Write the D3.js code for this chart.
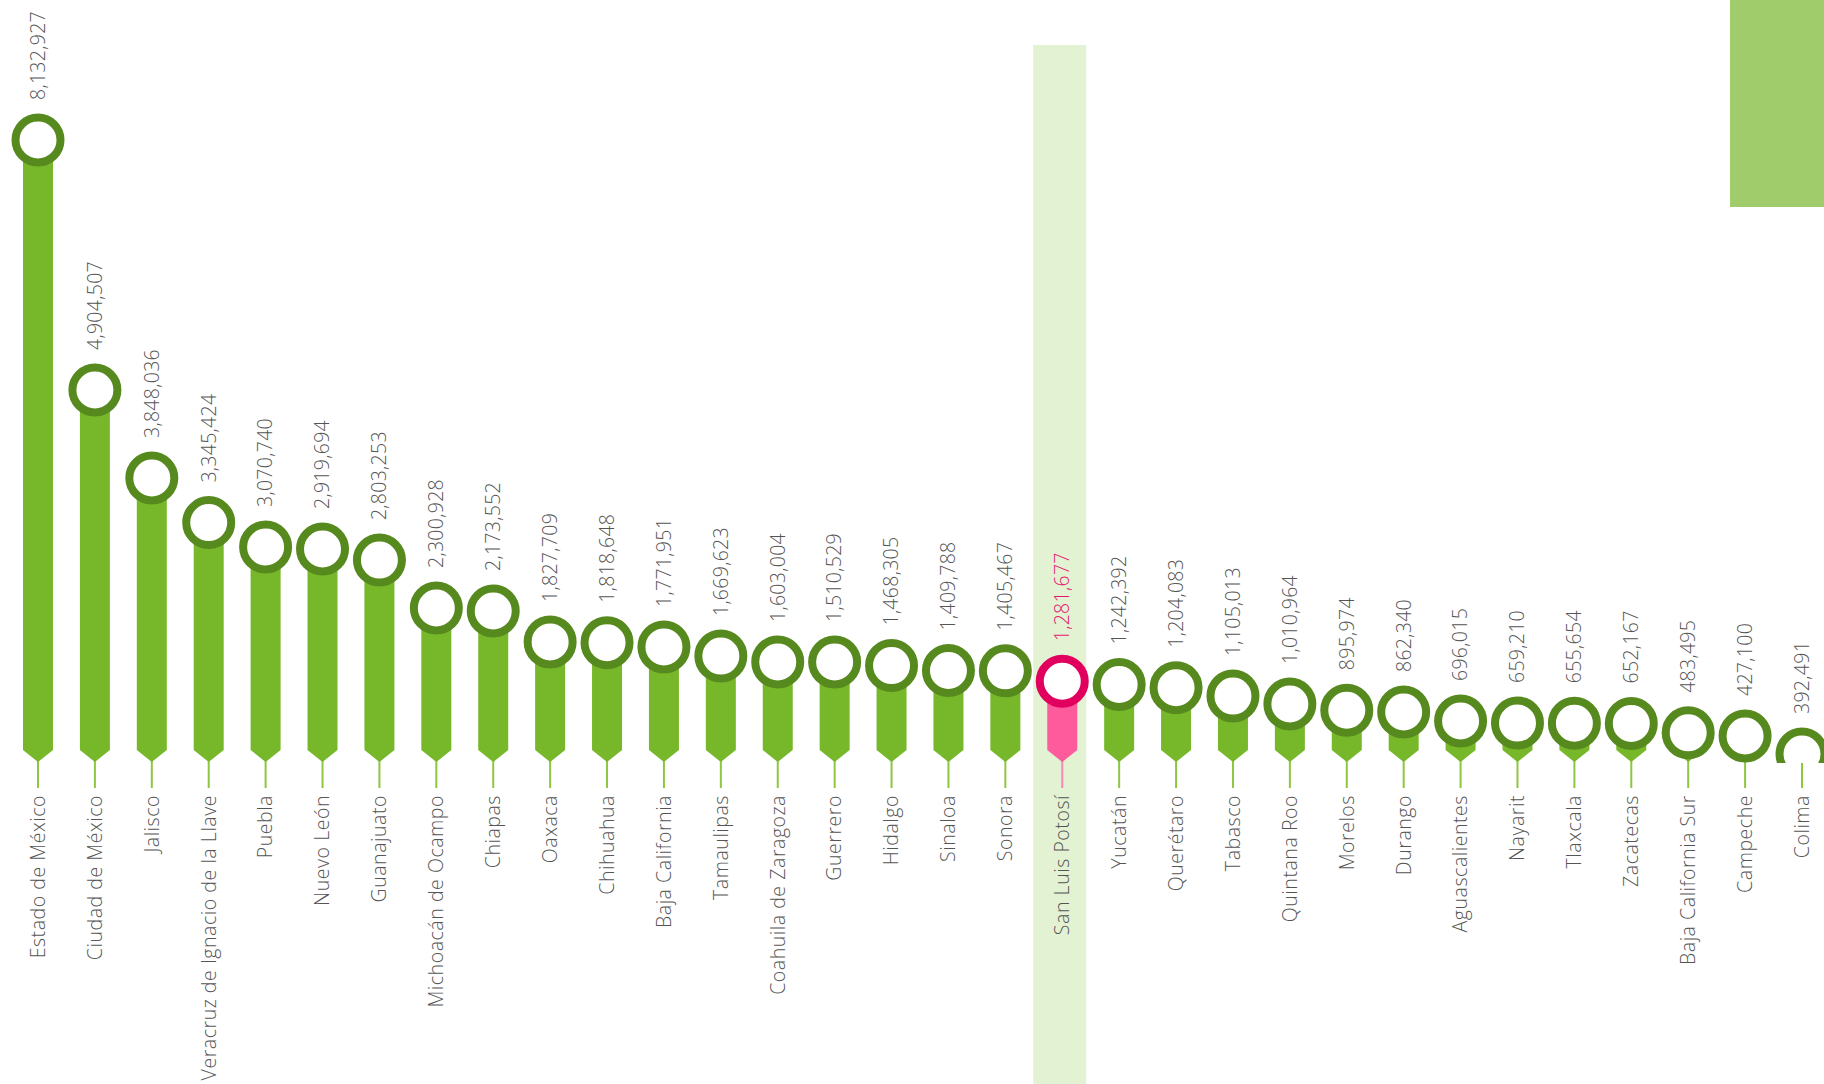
<!DOCTYPE html>
<html>
<head>
<meta charset="utf-8">
<script src="https://cdn.jsdelivr.net/npm/d3@7"></script>
<style>
  html, body { margin: 0; padding: 0; background: #fff; }
  svg { display: block; }
  text { font-family: "Open Sans", Lato, sans-serif; font-weight: 300; fill: #555; }
  text.cat { font-size: 19.5px; letter-spacing: 0.55px; }
  text.val { font-size: 19.5px; letter-spacing: 0.3px; }
</style>
</head>
<body>
<div id="chart"></div>
<script>
// States, sorted by value
const states = [
  'Estado de México', 'Ciudad de México', 'Jalisco', 'Veracruz de Ignacio de la Llave',
  'Puebla', 'Nuevo León', 'Guanajuato', 'Michoacán de Ocampo', 'Chiapas', 'Oaxaca',
  'Chihuahua', 'Baja California', 'Tamaulipas', 'Coahuila de Zaragoza', 'Guerrero',
  'Hidalgo', 'Sinaloa', 'Sonora', 'San Luis Potosí', 'Yucatán', 'Querétaro', 'Tabasco',
  'Quintana Roo', 'Morelos', 'Durango', 'Aguascalientes', 'Nayarit', 'Tlaxcala',
  'Zacatecas', 'Baja California Sur', 'Campeche', 'Colima'
];
const values = [
  8132927, 4904507, 3848036, 3345424, 3070740, 2919694, 2803253, 2300928, 2173552,
  1827709, 1818648, 1771951, 1669623, 1603004, 1510529, 1468305, 1409788, 1405467,
  1281677, 1242392, 1204083, 1105013, 1010964, 895974, 862340, 696015, 659210,
  655654, 652167, 483495, 427100, 392491
];
const highlighted = ['San Luis Potosí'];

const W = 1824, H = 1084;
const baseY = 762;      // chevron tip
const chevron = 12;
const barW = 30;
const ringR = 22.5;

const data = states.map((s, i) => ({ name: s, value: values[i], hi: highlighted.includes(s) }));

const svg = d3.select('#chart').append('svg')
  .attr('width', W).attr('height', H);

const x = d3.scalePoint()
  .domain(states)
  .range([38, 1802]);

// the chart's vertical axis is not quite linear, so use a piecewise scale
const y = d3.scaleLinear()
  .domain([392491, 427100, 696015, 1010964, 1510529, 1603004, 2173552, 2300928, 2919694, 3070740, 3848036, 4904507, 8132927])
  .range([754, 736, 721, 704, 662, 662, 611, 608, 549, 547, 478, 390, 140]);

// decorative block top right
svg.append('rect')
  .attr('x', 1730).attr('y', 0)
  .attr('width', W - 1730).attr('height', 207)
  .attr('fill', '#a1cc6c');

// highlight column
svg.selectAll('rect.hl')
  .data(data.filter(d => d.hi))
  .enter().append('rect')
  .attr('class', 'hl')
  .attr('x', d => x(d.name) - 29)
  .attr('y', 45)
  .attr('width', 53)
  .attr('height', H - 45)
  .attr('fill', '#e3f2d3');

// stems
svg.selectAll('line.stem')
  .data(data)
  .enter().append('line')
  .attr('class', 'stem')
  .attr('x1', d => x(d.name)).attr('x2', d => x(d.name))
  .attr('y1', baseY - 2).attr('y2', baseY + 26)
  .attr('stroke', d => d.hi ? '#f28bb5' : '#8dc63f')
  .attr('stroke-width', 2);

// bars with pointed bottom
svg.selectAll('path.bar')
  .data(data)
  .enter().append('path')
  .attr('class', 'bar')
  .attr('d', d => {
    const cx = x(d.name);
    const top = Math.min(y(d.value), baseY - chevron);
    const h = barW / 2;
    return `M${cx - h},${top}H${cx + h}V${baseY - chevron}L${cx},${baseY}L${cx - h},${baseY - chevron}Z`;
  })
  .attr('fill', d => d.hi ? '#fd5b9c' : '#77b82a');

// rings
svg.append('clipPath').attr('id', 'plot')
  .append('rect').attr('x', 0).attr('y', 0).attr('width', W).attr('height', baseY + 1);

svg.append('g').attr('clip-path', 'url(#plot)')
  .selectAll('circle')
  .data(data)
  .enter().append('circle')
  .attr('cx', d => x(d.name))
  .attr('cy', d => y(d.value))
  .attr('r', ringR)
  .attr('fill', '#fff')
  .attr('stroke', d => d.hi ? '#e2005f' : '#578a1e')
  .attr('stroke-width', 8);

// value labels
svg.selectAll('text.val')
  .data(data)
  .enter().append('text')
  .attr('class', 'val')
  .attr('transform', d => `translate(${x(d.name)},${y(d.value) - 40}) rotate(-90)`)
  .attr('dy', '0.35em')
  .style('fill', d => d.hi ? '#e5176d' : '#555')
  .text(d => d3.format(',')(d.value));

// category labels
svg.selectAll('text.cat')
  .data(data)
  .enter().append('text')
  .attr('class', 'cat')
  .attr('transform', d => `translate(${x(d.name)},${baseY + 33}) rotate(-90)`)
  .attr('text-anchor', 'end')
  .attr('dy', '0.35em')
  .text(d => d.name);
</script>
</body>
</html>
